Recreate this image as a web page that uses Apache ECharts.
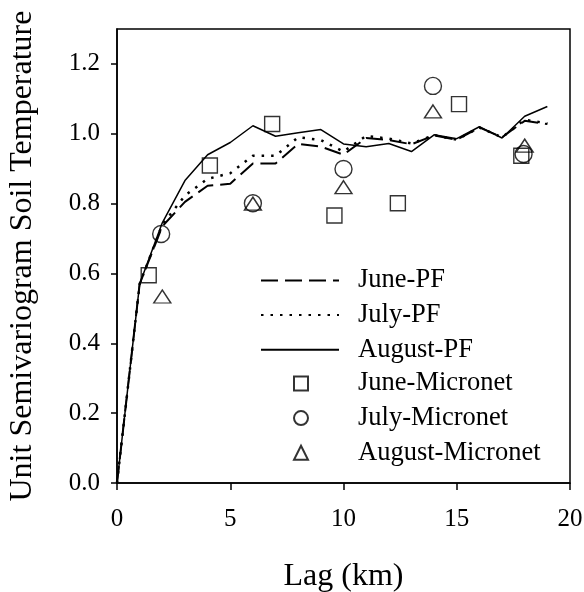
<!DOCTYPE html>
<html>
<head>
<meta charset="utf-8">
<script src="https://cdn.jsdelivr.net/npm/echarts@6/dist/echarts.min.js"></script>
<style>html,body{margin:0;padding:0;background:#fff}#c{width:584px;height:592px}</style>
</head>
<body>
<div id="c"></div>
<script>
// ---- data ----
const lagPF = [0,1,2,3,4,5,6,7,8,9,10,11,12,13,14,15,16,17,18,19];
const junePF = [0,0.57,0.735,0.805,0.851,0.857,0.915,0.915,0.971,0.963,0.94,0.988,0.982,0.97,0.995,0.983,1.018,0.99,1.037,1.028];
const julyPF = [0,0.57,0.74,0.823,0.871,0.887,0.937,0.937,0.99,0.982,0.949,0.994,0.986,0.972,0.996,0.983,1.018,0.99,1.04,1.03];
const augPF  = [0,0.57,0.745,0.866,0.94,0.975,1.023,0.993,1.003,1.012,0.971,0.963,0.972,0.949,0.997,0.986,1.02,0.988,1.05,1.078];

const juneMicroLag = [1.4,4.1,6.85,9.6,12.4,15.1,17.85];
const juneMicroVal = [0.595,0.909,1.028,0.766,0.801,1.085,0.937];
const julyMicroLag = [1.95,6.0,10.0,13.95,17.95];
const julyMicroVal = [0.713,0.801,0.899,1.137,0.942];
const augMicroLag  = [2.0,6.0,10.0,13.95,18.0];
const augMicroVal  = [0.534,0.80,0.847,1.064,0.966];

const xTicks = [0,5,10,15,20];
const yTicks = [0,0.2,0.4,0.6,0.8,1.0,1.2];

const lineNames = ['June-PF','July-PF','August-PF'];
const pointNames = ['June-Micronet','July-Micronet','August-Micronet'];

// ---- chart ----
const pair = (xs, ys) => xs.map((x, i) => [x, ys[i]]);
const FONT = 'Liberation Serif';
const chart = echarts.init(document.getElementById('c'), null, {renderer: 'canvas'});

const lineSeries = (name, vals, type, width) => ({
  name, type: 'line', data: pair(lagPF, vals), symbol: 'none', smooth: false,
  lineStyle: {color: '#000', width: width, type: type, cap: 'butt'},
  itemStyle: {color: '#000'}, z: 2
});
const scatterSeries = (name, xs, ys, symbol, size) => ({
  name, type: 'scatter', data: pair(xs, ys), symbol: symbol, symbolSize: size,
  itemStyle: {color: 'rgba(0,0,0,0)', borderColor: '#000', borderWidth: 1.4}, z: 3
});
const legendText = (pad) => ({fontFamily: FONT, fontSize: 26.5, color: '#000', lineHeight: 26, padding: [0,0,0,pad]});

chart.setOption({
  animation: false,
  backgroundColor: '#fff',
  textStyle: {fontFamily: FONT, color: '#000'},
  grid: {left: 117, right: 14, top: 29, bottom: 109, show: true, borderColor: '#000', borderWidth: 1.5,
    backgroundColor: 'transparent', outerBoundsMode: 'none', containLabel: false},
  legend: [
    {
      orient: 'vertical', left: 255, top: 262,
      itemWidth: 78, itemHeight: 14, itemGap: 7.6,
      data: lineNames,
      itemStyle: {opacity: 0},
      textStyle: legendText(14)
    },
    {
      orient: 'vertical', left: 288, top: 365,
      itemWidth: 14, itemHeight: 14, itemGap: 7.6,
      data: pointNames,
      textStyle: legendText(45)
    }
  ],
  xAxis: {
    type: 'value', min: 0, max: 20, interval: 5,
    name: 'Lag (km)', nameLocation: 'middle', nameGap: 78,
    nameTextStyle: {fontFamily: FONT, fontSize: 32, color: '#000'},
    axisLine: {lineStyle: {color: '#000', width: 1.5}},
    axisTick: {inside: false, length: 7, lineStyle: {color: '#000', width: 1.5}, customValues: xTicks},
    axisLabel: {fontFamily: FONT, fontSize: 25, color: '#000', margin: 24, customValues: xTicks},
    splitLine: {show: false}
  },
  yAxis: {
    type: 'value', min: 0, max: 1.3,
    name: 'Unit Semivariogram Soil Temperature', nameLocation: 'middle', nameGap: 78,
    nameTextStyle: {fontFamily: FONT, fontSize: 32, color: '#000'},
    axisLine: {lineStyle: {color: '#000', width: 1.5}},
    axisTick: {inside: false, length: 6, lineStyle: {color: '#000', width: 1.5}, customValues: yTicks},
    axisLabel: {fontFamily: FONT, fontSize: 25, color: '#000', margin: 17, customValues: yTicks,
      formatter: v => Number(v).toFixed(1)},
    splitLine: {show: false}
  },
  series: [
    lineSeries('June-PF', junePF, [17, 7], 2),
    lineSeries('July-PF', julyPF, [2.5, 7], 2.5),
    lineSeries('August-PF', augPF, 'solid', 1.5),
    scatterSeries('June-Micronet', juneMicroLag, juneMicroVal, 'rect', 15),
    scatterSeries('July-Micronet', julyMicroLag, julyMicroVal, 'circle', 17),
    scatterSeries('August-Micronet', augMicroLag, augMicroVal, 'triangle', [17, 13])
  ]
});
</script>
</body>
</html>
